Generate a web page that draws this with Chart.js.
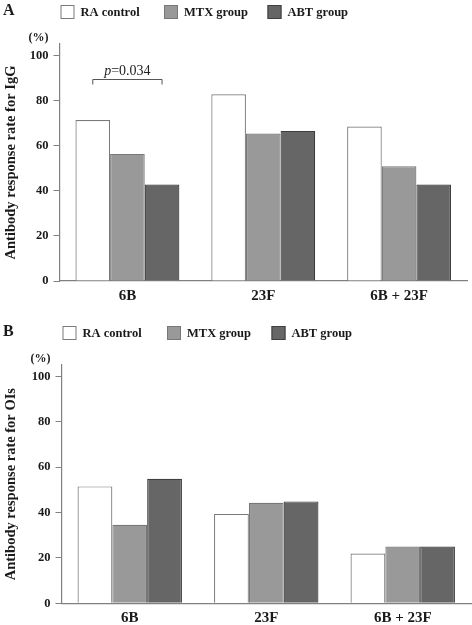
<!DOCTYPE html>
<html>
<head>
<meta charset="utf-8">
<script src="https://cdn.jsdelivr.net/npm/chart.js@4.4.0/dist/chart.umd.min.js"></script>
<style>
body{margin:0;background:#fff}
.panel{width:472px}
canvas{display:block}
</style>
</head>
<body>
<div class="panel"><canvas id="chartA" width="472" height="310"></canvas></div>
<div class="panel"><canvas id="chartB" width="472" height="315"></canvas></div>
<script>
// Data
const categories = ['6B', '23F', '6B + 23F'];
const groups = ['RA control', 'MTX group', 'ABT group'];
const iggRA  = [71.3, 82.7, 68.4];
const iggMTX = [56.3, 65.3, 50.8];
const iggABT = [42.7, 66.5, 42.7];
const oiRA  = [51.5, 39.4, 21.9];
const oiMTX = [34.6, 44.3, 25.0];
const oiABT = [54.9, 44.9, 25.0];
const yTicks = [0, 20, 40, 60, 80, 100];
const pLabel = '=0.034';

const fills = ['#ffffff', '#999999', '#666666'];
const borders = ['#7a7a7a', '#777777', '#3f3f3f'];
const serif = '"Liberation Serif", "Times New Roman", serif';

// legend boxes, panel letter and (%) label
const boxLegend = {
  id: 'boxLegend',
  afterDraw(chart, args, o) {
    const ctx = chart.ctx, a = chart.chartArea;
    ctx.save();
    ctx.textBaseline = 'middle';
    ctx.font = 'bold 12.5px ' + serif;
    chart.data.datasets.forEach((ds, i) => {
      const x = o.x + i * o.step;
      ctx.fillStyle = ds.backgroundColor;
      ctx.fillRect(x, o.y, 14, 14);
      ctx.strokeStyle = ds.borderColor;
      ctx.lineWidth = 1;
      ctx.strokeRect(x + 0.5, o.y + 0.5, 13, 13);
      ctx.fillStyle = '#1a1a1a';
      ctx.fillText(ds.label, x + 20, o.y + 7.5);
    });
    ctx.font = 'bold 16px ' + serif;
    ctx.fillText(o.letter, 3, o.y + 6);
    ctx.font = 'bold 12px ' + serif;
    ctx.textAlign = 'center';
    ctx.fillText('(%)', a.left - 21, a.top - 6);
    ctx.restore();
  }
};

// significance bracket
const pNote = {
  id: 'pNote',
  afterDatasetsDraw(chart, args, o) {
    if (!o.show) return;
    const ctx = chart.ctx, y = chart.scales.y;
    const x1 = chart.getDatasetMeta(o.from).data[o.cat].x;
    const x2 = chart.getDatasetMeta(o.to).data[o.cat].x;
    const yb = Math.round(y.getPixelForValue(o.level)) + 0.5;
    ctx.save();
    ctx.strokeStyle = '#555';
    ctx.lineWidth = 1;
    ctx.beginPath();
    ctx.moveTo(x1, yb + 5); ctx.lineTo(x1, yb); ctx.lineTo(x2, yb); ctx.lineTo(x2, yb + 5);
    ctx.stroke();
    ctx.fillStyle = '#222';
    ctx.textBaseline = 'alphabetic';
    ctx.font = 'italic 14px ' + serif;
    const w1 = ctx.measureText('p').width;
    ctx.font = '14px ' + serif;
    const w2 = ctx.measureText(o.text).width;
    const sx = (x1 + x2) / 2 - (w1 + w2) / 2;
    ctx.font = 'italic 14px ' + serif;
    ctx.fillText('p', sx, yb - 5);
    ctx.font = '14px ' + serif;
    ctx.fillText(o.text, sx + w1, yb - 5);
    ctx.restore();
  }
};

function makeChart(id, series, title, opts) {
  return new Chart(document.getElementById(id), {
    type: 'bar',
    data: {
      labels: categories,
      datasets: series.map((s, i) => ({
        label: groups[i],
        data: s,
        backgroundColor: fills[i],
        borderColor: borders[i],
        borderWidth: 1.2,
        barPercentage: 1,
        categoryPercentage: 0.765
      }))
    },
    options: {
      responsive: false,
      animation: false,
      events: [],
      layout: { padding: { top: opts.top, right: opts.right, left: 0, bottom: 0 } },
      plugins: {
        legend: { display: false },
        tooltip: { enabled: false },
        boxLegend: opts.legend,
        pNote: opts.note || { show: false }
      },
      scales: {
        x: {
          grid: { display: false, drawTicks: false },
          border: { color: '#808080', width: 1.2 },
          ticks: { color: '#1a1a1a', font: { family: serif, size: 15, weight: 'bold' }, padding: opts.xpad },
          afterFit: s => { s.height = opts.xh; }
        },
        y: {
          min: 0,
          max: 105,
          afterBuildTicks: s => { s.ticks = yTicks.map(v => ({ value: v })); },
          grid: { drawOnChartArea: false, drawTicks: true, tickLength: 6, color: '#808080' },
          border: { color: '#808080', width: 1.2 },
          ticks: { color: '#1a1a1a', font: { family: serif, size: 12.5, weight: 'bold' }, padding: 5 },
          title: { display: true, text: title, color: '#1a1a1a', font: { family: serif, size: 14.5, weight: 'bold' }, padding: { top: 3, bottom: 4 } },
          afterFit: s => { s.width = opts.yw; }
        }
      }
    },
    plugins: [boxLegend, pNote]
  });
}

makeChart('chartA', [iggRA, iggMTX, iggABT], 'Antibody response rate for IgG', {
  top: 44, right: 5, xh: 29, yw: 59.5, xpad: 6,
  legend: { letter: 'A', x: 60.5, y: 5, step: 103.5 },
  note: { show: true, cat: 0, from: 0, to: 2, level: 89.3, text: pLabel }
});
makeChart('chartB', [oiRA, oiMTX, oiABT], 'Antibody response rate for OIs', {
  top: 55, right: 1, xh: 21.7, yw: 61.5, xpad: 6,
  legend: { letter: 'B', x: 62.5, y: 16, step: 104.5 }
});
</script>
</body>
</html>
